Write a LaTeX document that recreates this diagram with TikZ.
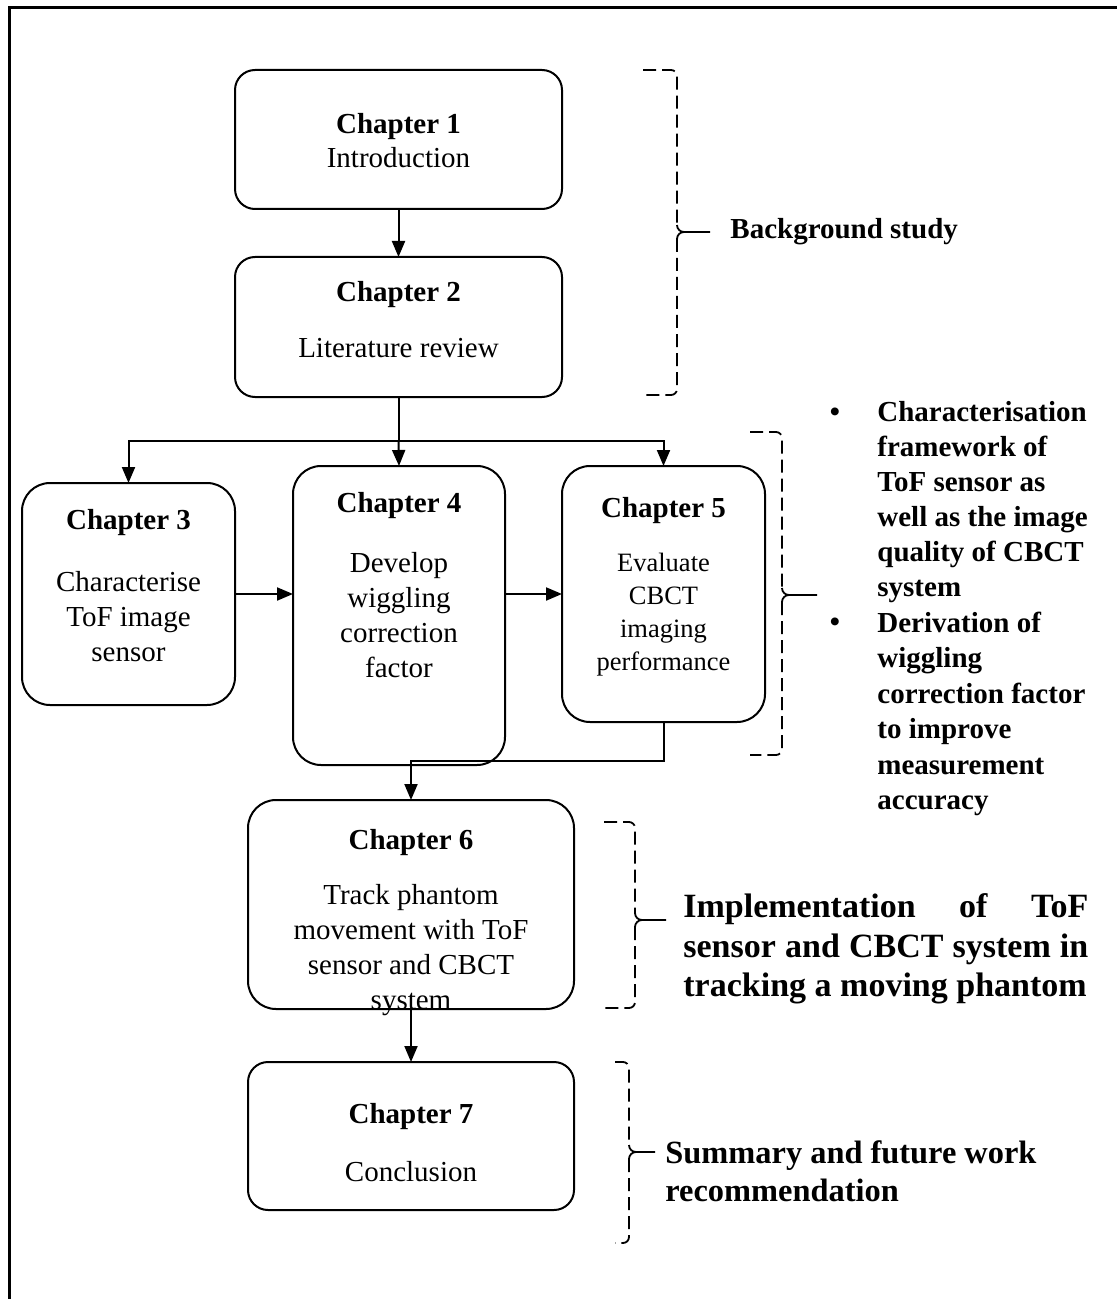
\documentclass[tikz,border=0pt]{standalone}
\usepackage{fontspec}
\setmainfont{Liberation Serif}
\usetikzlibrary{arrows.meta}
\newcommand\mybrace[6]{%
  \draw[dbr] (#1,#3) -- (#2,#3) -- (#2,#4-7);
  \draw[dbr] (#2,#4+7) -- (#2,#5) -- (#1,#5);
  \draw[line width=0.9pt] (#2,#4-7) to[out=-90,in=180] (#2+7,#4) -- (#6,#4);
  \draw[line width=0.9pt] (#2+7,#4) to[out=180,in=90] (#2,#4+7);}
\begin{document}
\begin{tikzpicture}[x=0.5pt,y=-0.5pt,
  box/.style={draw, line width=1pt, rounded corners=#1, inner sep=0pt, outer sep=0pt},
  box/.default=10pt,
  ttl/.style={font=\fontsize{14.5}{17.5}\selectfont\bfseries, inner sep=0pt},
  dsc/.style={font=\fontsize{14.5}{17.5}\selectfont, align=center, inner sep=0pt},
  dsc5/.style={font=\fontsize{13.25}{16.5}\selectfont, align=center, inner sep=0pt},
  note/.style={font=\fontsize{14.5}{17.5}\selectfont\bfseries, align=left, inner sep=0pt, anchor=west},
  arr/.style={-{Triangle[length=8pt,width=6.5pt]}, line width=1pt},
  dbr/.style={dash pattern=on 6.5pt off 3pt, line width=0.9pt, rounded corners=3pt}
]
\useasboundingbox (0,0) rectangle (1117,1299);
% frame
\draw[line width=1.5pt] (9,1299) -- (9,8) -- (1117,8);

% boxes
\node[box, minimum width=163.5pt, minimum height=69.5pt] (c1) at (398.5,139.5) {};
\node[box, minimum width=163.5pt, minimum height=70pt] (c2) at (398.5,327) {};
\node[box=14pt, minimum width=106.5pt, minimum height=111pt] (c3) at (128.5,594) {};
\node[box=14pt, minimum width=106pt, minimum height=149.5pt] (c4) at (399,615.5) {};
\node[box=14pt, minimum width=101.5pt, minimum height=128pt] (c5) at (663.5,594) {};
\node[box=14pt, minimum width=163pt, minimum height=104.5pt] (c6) at (411,904.5) {};
\node[box, minimum width=163pt, minimum height=74pt] (c7) at (411,1136) {};

% box texts
\node[ttl] (t1a) at (398.5,127) {Chapter 1};
\node[dsc] (t1b) at (398.5,158) {Introduction};
\node[ttl] (t2a) at (398.5,295) {Chapter 2};
\node[dsc] (t2b) at (398.5,348) {Literature review};
\node[ttl] (t3a) at (128.5,523) {Chapter 3};
\node[dsc] (t3b) at (128.5,617) {Characterise\\ToF image\\sensor};
\node[ttl] (t4a) at (399,506) {Chapter 4};
\node[dsc] (t4b) at (399,615) {Develop\\wiggling\\correction\\factor};
\node[ttl] (t5a) at (663.5,511) {Chapter 5};
\node[dsc5] (t5b) at (663.5,614.5) {Evaluate\\CBCT\\imaging\\performance};
\node[ttl] (t6a) at (411,843) {Chapter 6};
\node[dsc] (t6b) at (411,950) {Track phantom\\movement with ToF\\sensor and CBCT\\system};
\node[ttl] (t7a) at (411,1117) {Chapter 7};
\node[dsc] (t7b) at (411,1172) {Conclusion};

% connectors
\coordinate (j) at (398.5,441);
\coordinate (k) at (0,761);
\draw[arr] (c1.south) -- (c2.north);
\draw[line width=1pt] (c2.south) -- (j);
\draw[arr] (j) -| (c3.north);
\draw[arr] (j) -| (c5.north);
\draw[arr] (j) -- (c4.north);
\draw[arr] (c3.east) -- (c3.east -| c4.west);
\draw[arr] (c3.east -| c4.east) -- (c3.east -| c5.west);
\draw[arr] (c5.south) -- (c5.south |- k) -| (c6.north);
\draw[arr] (c6.south) -- (c7.north);

% braces
\mybrace{643}{677}{70}{232}{395}{710}
\mybrace{750}{782}{432}{595}{755}{817}
\mybrace{604}{635}{822}{920}{1008}{666}
\mybrace{615}{629}{1062}{1152}{1243}{655}

% notes
\node[note] (n1) at (730,232) {Background study};
\node[font=\fontsize{14.5}{17.5}\selectfont\bfseries, inner sep=0pt] (b1) at (835,415) {\textbullet};
\node[font=\fontsize{14.5}{17.5}\selectfont\bfseries, inner sep=0pt] (b2) at (835,625) {\textbullet};
\node[note] (n2) at (877,502.5) {Characterisation\\framework of\\ToF sensor as\\well as the image\\quality of CBCT\\system};
\node[note, font=\fontsize{14.5}{17.75}\selectfont\bfseries] (n3) at (877,714) {Derivation of\\wiggling\\correction factor\\to improve\\measurement\\accuracy};
\node[note, font=\fontsize{17}{19.75}\selectfont\bfseries] (n4) at (683,949) {\makebox[202.5pt][s]{Implementation of ToF}\\\makebox[202.5pt][s]{sensor and CBCT system in}\\tracking a moving phantom};
\node[note, font=\fontsize{16.2}{19}\selectfont\bfseries] (n5) at (665,1171) {Summary and future work\\recommendation};
\end{tikzpicture}
\end{document}
